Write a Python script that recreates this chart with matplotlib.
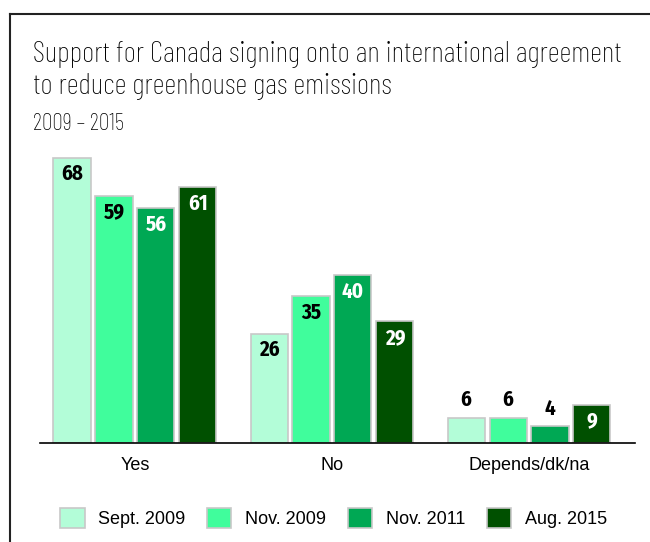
import matplotlib
matplotlib.use("Agg")
import matplotlib.pyplot as plt
import numpy as np
from matplotlib.lines import Line2D
from matplotlib.patches import Patch

categories = ["Yes", "No", "Depends/dk/na"]
series = ["Sept. 2009", "Nov. 2009", "Nov. 2011", "Aug. 2015"]
values = [
    [68, 26, 6],
    [59, 35, 6],
    [56, 40, 4],
    [61, 29, 9],
]
colors = ["#b3fdd8", "#40fd9c", "#00a854", "#005000"]
label_colors = ["black", "black", "white", "white"]

title_font = "Barlow Condensed"
num_font = "Fira Sans Condensed"
plain = "Liberation Sans"

fig = plt.figure(figsize=(6.5, 5.42), dpi=100)
ax = fig.add_axes([40 / 650, 1 - 443 / 542, 595 / 650, 293.4 / 542])

x = np.arange(len(categories))
step = 0.213
width = 0.188
for i, (name, vals) in enumerate(zip(series, values)):
    xs = x + (i - 1.5) * step
    ax.bar(xs, vals, width, color=colors[i], edgecolor="#c8c8c8", linewidth=1.2, label=name)
    for bx, v in zip(xs, vals):
        if v >= 8:
            ax.annotate(str(v), (bx, v), xytext=(0, -4), textcoords="offset points",
                        ha="center", va="top", fontsize=15, fontweight="bold",
                        family=num_font, color=label_colors[i])
        else:
            ax.annotate(str(v), (bx, v), xytext=(0, 5), textcoords="offset points",
                        ha="center", va="bottom", fontsize=15, fontweight="bold",
                        family=num_font, color="black")

ax.set_xlim(-0.482, 2.538)
ax.set_ylim(0, 70)
ax.set_xticks(x)
ax.set_xticklabels(categories, fontsize=13, family=plain)
ax.tick_params(axis="x", length=0, pad=10)
ax.set_yticks([])
for s in ["top", "right", "left"]:
    ax.spines[s].set_visible(False)
ax.spines["bottom"].set_linewidth(1.2)

t1 = fig.text(33 / 650, 1 - 62 / 542, "Support for Canada signing onto an international agreement",
              fontsize=22, family=title_font, weight="light", color="black", ha="left", va="baseline")
t2 = fig.text(33 / 650, 1 - 94 / 542, "to reduce greenhouse gas emissions",
              fontsize=22, family=title_font, weight="light", color="black", ha="left", va="baseline")
t3 = fig.text(33 / 650, 1 - 130 / 542, "2009 \u2013 2015", fontsize=17, family=title_font,
              weight="light", color="black", ha="left", va="baseline")

# fit title width to the reference (about 590 px for the first line)
r = fig.canvas.get_renderer()
w = t1.get_window_extent(r).width
size = 22 * 590 / w
t1.set_fontsize(size)
t2.set_fontsize(size)

handles = [Patch(facecolor=c, edgecolor="#c8c8c8", linewidth=1.2) for c in colors]
fig.legend(handles, series, loc="center", bbox_to_anchor=(0.513, 1 - 518 / 542), ncol=4,
           frameon=False, handlelength=1.35, handleheight=1.35, columnspacing=1.2,
           handletextpad=0.75, prop={"family": plain, "size": 13})

# frame lines at top and left
fig.add_artist(Line2D([10 / 650, 1], [1 - 14 / 542, 1 - 14 / 542], color="#222222", lw=1.5))
fig.add_artist(Line2D([10 / 650, 10 / 650], [0, 1 - 14 / 542], color="#222222", lw=1.5))

fig.savefig("out.png", dpi=100)
